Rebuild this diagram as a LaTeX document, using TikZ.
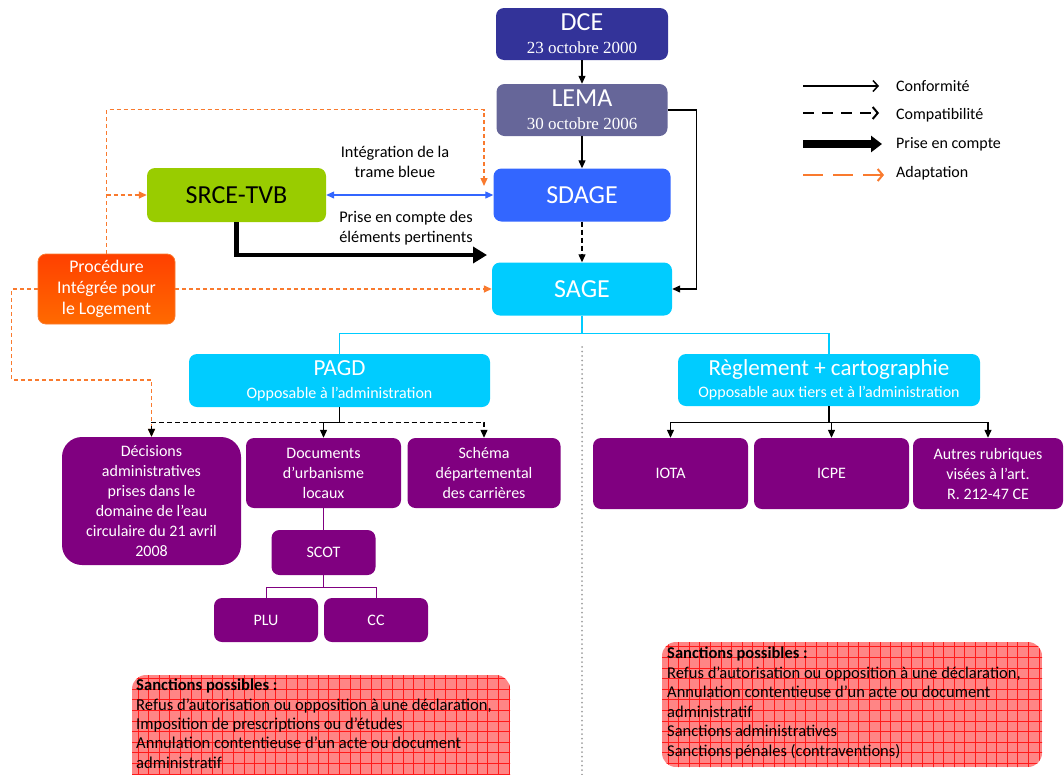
\documentclass[tikz,border=0pt]{standalone}
\usepackage{fontspec}
\setmainfont{Carlito}
\newfontfamily\datefont{Liberation Serif}
\usetikzlibrary{arrows.meta,calc}
\definecolor{dcec}{HTML}{333399}
\definecolor{lemac}{HTML}{666699}
\definecolor{sdagec}{HTML}{3366FF}
\definecolor{sagec}{HTML}{00CCFF}
\definecolor{srcec}{HTML}{99CC00}
\definecolor{purpc}{HTML}{800080}
\definecolor{orngc}{HTML}{F97A2E}
\definecolor{pilA}{HTML}{FF4000}
\definecolor{pilB}{HTML}{FF6A00}
\definecolor{sancfill}{HTML}{FF8585}
\definecolor{sancgrid}{HTML}{FF1A1A}
\definecolor{dotgray}{HTML}{A0A0A0}
\newcommand{\fs}[2]{\fontsize{#1}{#2}\selectfont}
\begin{document}
\begin{tikzpicture}[x=1pt,y=-1pt,
  box/.style={rounded corners=8pt, inner sep=0pt, align=center, text=white},
  purplebox/.style={box, fill=purpc, font=\fs{16}{20}},
  conf/.style={draw=black, line width=1.2pt, -{Triangle[length=8pt,width=7pt]}},
  compat/.style={conf, dash pattern=on 5pt off 3pt},
  adapt/.style={draw=orngc, line width=1.4pt, dash pattern=on 4pt off 3pt, -{Triangle[length=8pt,width=7pt]}},
  cyanline/.style={draw=sagec, line width=1.2pt},
  purpline/.style={draw=purpc, line width=1pt},
  lbl/.style={align=center, inner sep=0pt, font=\fs{16.3}{20}},
  legtxt/.style={anchor=west, inner sep=0pt, font=\fs{16}{18}}
]
\useasboundingbox (0,0) rectangle (1064,774);

% ---- top chain
\node[box, fill=dcec, minimum width=172pt, minimum height=52pt, font=\fs{17}{23}] (dce) at (582,34)
  {{\fs{26}{26}DCE}\\{\datefont 23 octobre 2000}};
\node[box, fill=lemac, minimum width=171pt, minimum height=52pt, font=\fs{17}{23}] (lema) at (582,110)
  {{\fs{26}{26}LEMA}\\{\datefont 30 octobre 2006}};
\node[box, fill=sdagec, minimum width=177pt, minimum height=53pt, font=\fs{26}{28}] (sdage) at (582,195) {SDAGE};
\node[box, fill=sagec, minimum width=180pt, minimum height=53pt, font=\fs{26}{28}] (sage) at (582,289) {SAGE};
\node[box, fill=srcec, text=black, minimum width=179pt, minimum height=54pt, font=\fs{26}{28}] (srce) at (236.5,195) {SRCE-TVB};
\node[box, top color=pilA, bottom color=pilB, draw=orngc, line width=0.8pt, minimum width=137pt, minimum height=70pt, font=\fs{17.8}{21}] (pil) at (106.5,289)
  {Procédure\\Intégrée pour\\le Logement};

% ---- second level
\node[box, fill=sagec, minimum width=301pt, minimum height=53pt, font=\fs{16}{23}] (pagd) at (339.5,380.5)
  {{\fs{23}{24}PAGD}\\Opposable à l’administration};
\node[box, fill=sagec, minimum width=302pt, minimum height=52pt, font=\fs{16}{22}] (regl) at (829,380)
  {{\fs{23}{24}Règlement + cartographie}\\Opposable aux tiers et à l’administration};

% ---- purple boxes
\node[purplebox, rounded corners=20pt, minimum width=179pt, minimum height=128pt] (dec) at (151.5,501)
  {Décisions\\administratives\\prises dans le\\domaine de l’eau\\circulaire du 21 avril\\2008};
\node[purplebox, minimum width=155pt, minimum height=70pt] (doc) at (323.5,473) {Documents\\d’urbanisme\\locaux};
\node[purplebox, minimum width=153pt, minimum height=70pt] (sch) at (484,473) {Schéma\\départemental\\des carrières};
\node[purplebox, minimum width=104pt, minimum height=45pt] (scot) at (323.5,552.5) {SCOT};
\node[purplebox, minimum width=104pt, minimum height=44pt] (plu) at (266,620) {PLU};
\node[purplebox, minimum width=104pt, minimum height=44pt] (cc) at (376,620) {CC};
\node[purplebox, minimum width=155pt, minimum height=71pt] (iota) at (670.5,473.5) {IOTA};
\node[purplebox, minimum width=155pt, minimum height=71pt] (icpe) at (831.5,473.5) {ICPE};
\node[purplebox, minimum width=150pt, minimum height=71pt] (autres) at (988,473.5) {Autres rubriques\\visées à l’art.\\R. 212-47 CE};

% ---- connectors top
\draw[conf] (dce.south) -- (lema.north);
\draw[conf] (lema.south) -- (sdage.north);
\draw[compat] (sdage.south) -- (sage.north);
\draw[conf] (lema.east) -- ++(29,0) |- (sage.east);
\draw[draw=sdagec, line width=1.2pt, {Triangle[length=8pt,width=7pt]}-{Triangle[length=8pt,width=7pt]}] (srce.east) -- (sdage.west);
\node[lbl] (lint) at (395,162) {Intégration de la\\trame bleue};
\coordinate (ptip) at (487,255);
\draw[line width=4.5pt, -{Triangle[length=14pt,width=16pt]}] (srce.south) |- (ptip);
\node[lbl] (lprise) at (406,228) {Prise en compte des\\éléments pertinents};

% ---- orange adaptation
\coordinate (otip) at (484,186);
\draw[adapt] (pil.north) -- ++(0,-144) -| (otip);
\draw[adapt] (pil.north |- srce.west) -- (srce.west);
\draw[adapt] (pil.east) -- (sage.west);
\draw[adapt] (pil.west) -- ++(-26,0) |- ($(dec.north)+(0,-57)$) -- (dec.north);

% ---- SAGE to documents
\draw[cyanline] (sage.south) -- ++(0,18) -| (pagd.north);
\draw[cyanline] (sage.south) -- ++(0,18) -| (regl.north);
\coordinate (dtop) at (582,347);
\coordinate (dbot) at (582,776);
\draw[dotgray, line width=2pt, line cap=round, dash pattern=on 0pt off 4.5pt] (dtop) -- (dbot);

\draw[compat] ($(pagd.south)+(0,15)$) -| (dec.north);
\draw[compat] ($(pagd.south)+(0,15)$) -| (sch.north);
\draw[conf] (pagd.south) -- ++(0,15) -| (doc.north);

\draw[conf] (regl.south) -- ++(0,16) -| (iota.north);
\draw[conf] (regl.south) -- ++(0,16) -| (icpe.north);
\draw[conf] (regl.south) -- ++(0,16) -| (autres.north);

\draw[purpline] (doc.south) -- (scot.north);
\draw[purpline] (scot.south) -- ++(0,12) -| (plu.north);
\draw[purpline] (scot.south) -- ++(0,12) -| (cc.north);

% ---- legend
\coordinate (l1a) at (803,86);  \coordinate (l1b) at (879,86);
\coordinate (l2a) at (803,113); \coordinate (l2b) at (879,113);
\coordinate (l3a) at (803,144); \coordinate (l3b) at (882,144);
\coordinate (l4a) at (803,175); \coordinate (l4b) at (884,175);
\draw[line width=1.2pt, -{Straight Barb[length=5pt,width=11pt,line width=1.5pt]}] (l1a) -- (l1b);
\draw[line width=2.6pt, dash pattern=on 11pt off 8pt, -{Straight Barb[length=5pt,width=12pt,line width=2pt]}] (l2a) -- (l2b);
\draw[line width=8pt, -{Triangle[length=11pt,width=16pt]}] (l3a) -- (l3b);
\draw[orngc, line width=2.6pt, dash pattern=on 20pt off 10pt, -{Straight Barb[length=5pt,width=12pt,line width=2pt]}] (l4a) -- (l4b);
\node[legtxt] (t1) at (896,86) {Conformité};
\node[legtxt] (t2) at (896,115) {Compatibilité};
\node[legtxt] (t3) at (896,144) {Prise en compte};
\node[legtxt] (t4) at (896,173) {Adaptation};

% ---- sanctions boxes
\begin{scope}
  \clip[rounded corners=14pt] (132,675) rectangle (510,790);
  \fill[sancfill] (132,675) rectangle (510,790);
  \draw[sancgrid, line width=0.5pt, step=10.6pt] (120,660) grid (520,800);
\end{scope}
\node[anchor=north west, align=left, inner sep=0pt, font=\fs{16.6}{19.3}] (sl) at (136,679)
  {\textbf{Sanctions possibles :}\\Refus d’autorisation ou opposition à une déclaration,\\Imposition de prescriptions ou d’études\\Annulation contentieuse d’un acte ou document\\administratif};
\begin{scope}
  \clip[rounded corners=14pt] (662,642) rectangle (1042,767);
  \fill[sancfill] (662,642) rectangle (1042,767);
  \draw[sancgrid, line width=0.5pt, step=10.6pt] (650,630) grid (1050,780);
\end{scope}
\node[anchor=north west, align=left, inner sep=0pt, font=\fs{16.5}{19.5}] (sr) at (667,647)
  {\textbf{Sanctions possibles :}\\Refus d’autorisation ou opposition à une déclaration,\\Annulation contentieuse d’un acte ou document\\administratif\\Sanctions administratives\\Sanctions pénales (contraventions)};
\end{tikzpicture}
\end{document}
